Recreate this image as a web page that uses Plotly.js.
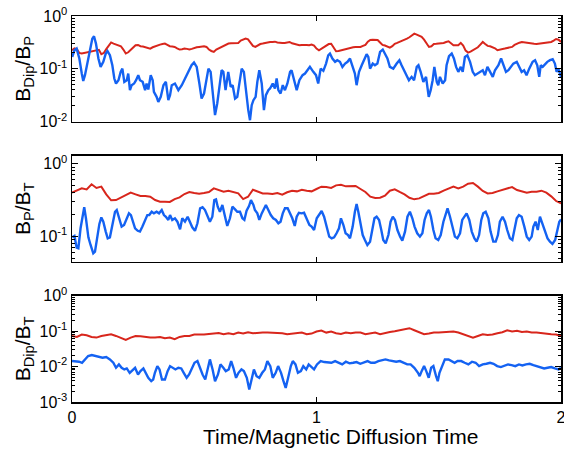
<!DOCTYPE html>
<html>
<head>
<meta charset="utf-8">
<script src="https://cdn.plot.ly/plotly-3.0.1.min.js"></script>
<style>html,body{margin:0;padding:0;background:#fff;}#chart{width:564px;height:450px;}</style>
</head>
<body>
<div id="chart"></div>
<script>
// ---- Panel 1: B_Dip / B_P ----
// red series sampled every 0.01 diffusion times (t = 0 ... 2)
const p1RedValues = [
0.225,0.245,0.236,0.200,0.195,0.200,0.203,0.209,0.215,0.222,
0.225,0.229,0.189,0.200,0.236,0.268,0.316,0.301,0.288,0.284,
0.268,0.232,0.195,0.206,0.225,0.256,0.280,0.284,0.268,0.264,
0.256,0.249,0.242,0.256,0.268,0.280,0.288,0.295,0.301,0.284,
0.268,0.264,0.260,0.245,0.232,0.236,0.242,0.239,0.232,0.239,
0.249,0.256,0.260,0.264,0.268,0.260,0.232,0.218,0.209,0.232,
0.245,0.264,0.280,0.295,0.301,0.305,0.310,0.310,0.310,0.343,
0.362,0.373,0.362,0.310,0.272,0.260,0.280,0.295,0.301,0.310,
0.313,0.323,0.323,0.327,0.316,0.310,0.310,0.310,0.316,0.323,
0.305,0.295,0.284,0.280,0.284,0.288,0.284,0.280,0.288,0.276,
0.242,0.225,0.239,0.260,0.276,0.295,0.298,0.256,0.215,0.218,
0.225,0.229,0.236,0.245,0.252,0.256,0.260,0.260,0.260,0.272,
0.284,0.327,0.352,0.357,0.352,0.352,0.316,0.284,0.276,0.264,
0.252,0.268,0.298,0.310,0.323,0.337,0.357,0.373,0.396,0.438,
0.464,0.444,0.425,0.402,0.357,0.301,0.260,0.268,0.295,0.298,
0.301,0.305,0.310,0.323,0.332,0.305,0.280,0.280,0.280,0.310,
0.276,0.222,0.203,0.212,0.225,0.239,0.256,0.288,0.323,0.295,
0.272,0.268,0.260,0.245,0.225,0.229,0.232,0.242,0.249,0.256,
0.260,0.284,0.301,0.313,0.323,0.316,0.313,0.310,0.301,0.298,
0.295,0.298,0.301,0.305,0.313,0.316,0.323,0.343,0.367,0.357,
0.323];

const p1BlueTime = [
0.001,0.010,0.019,0.030,0.040,0.046,0.053,0.063,0.074,0.083,0.090,0.098,0.108,0.117,0.128,0.138,0.145,0.155,0.165,0.173,
0.180,0.190,0.199,0.206,0.214,0.224,0.230,0.237,0.244,0.254,0.262,0.271,0.278,0.289,0.299,0.305,0.312,0.322,0.330,0.335,
0.346,0.353,0.363,0.374,0.384,0.394,0.401,0.408,0.421,0.435,0.449,0.462,0.476,0.489,0.499,0.510,0.521,0.530,0.540,0.551,
0.558,0.567,0.575,0.585,0.594,0.603,0.612,0.619,0.628,0.639,0.649,0.657,0.667,0.676,0.684,0.694,0.703,0.712,0.721,0.728,
0.735,0.742,0.751,0.758,0.766,0.776,0.785,0.793,0.803,0.810,0.821,0.830,0.837,0.844,0.853,0.862,0.871,0.881,0.892,0.898,
0.908,0.919,0.930,0.943,0.953,0.966,0.973,0.987,0.998,1.007,1.017,1.028,1.039,1.048,1.055,1.065,1.076,1.085,1.096,1.106,
1.117,1.127,1.137,1.146,1.157,1.164,1.174,1.185,1.196,1.205,1.212,1.219,1.230,1.239,1.249,1.260,1.271,1.280,1.290,1.300,
1.314,1.328,1.339,1.348,1.358,1.369,1.378,1.389,1.399,1.410,1.417,1.426,1.437,1.448,1.459,1.467,1.475,1.482,1.492,1.498,
1.505,1.516,1.526,1.532,1.542,1.553,1.562,1.571,1.580,1.590,1.598,1.607,1.617,1.628,1.639,1.648,1.658,1.669,1.680,1.689,
1.699,1.710,1.721,1.730,1.744,1.755,1.764,1.775,1.785,1.795,1.805,1.819,1.830,1.839,1.849,1.859,1.870,1.884,1.894,1.903,
1.911,1.917,1.925,1.935,1.944,1.955,1.966,1.975,1.982,1.989,2.000];
const p1BlueValues = [
0.168,0.225,0.242,0.157,0.0817,0.059,0.076,0.126,0.225,0.373,0.413,0.301,0.157,0.109,0.136,0.195,0.218,0.181,0.117,0.0657,
0.0529,0.0611,0.0878,0.101,0.0569,0.0611,0.0817,0.0396,0.0492,0.0529,0.0611,0.076,0.0611,0.0569,0.0396,0.0529,0.0408,0.076,0.0611,0.0368,
0.0296,0.0238,0.0296,0.0492,0.0569,0.0256,0.0318,0.0492,0.0529,0.0396,0.0492,0.0657,0.0878,0.117,0.132,0.109,0.0529,0.0275,0.0342,0.0657,
0.101,0.0878,0.0396,0.0134,0.0222,0.0529,0.0944,0.0878,0.0396,0.0878,0.0457,0.0492,0.0275,0.0296,0.0529,0.101,0.0878,0.0342,0.0166,0.0107,
0.0206,0.0256,0.0296,0.0569,0.0944,0.0529,0.0166,0.0318,0.0396,0.0426,0.0529,0.0426,0.0657,0.0396,0.0342,0.0492,0.0396,0.0529,0.0878,0.0944,
0.0657,0.0396,0.0611,0.076,0.0817,0.101,0.109,0.0878,0.076,0.0529,0.101,0.0917,0.126,0.181,0.195,0.157,0.136,0.146,0.136,0.109,
0.126,0.136,0.157,0.117,0.0817,0.0492,0.0878,0.117,0.157,0.189,0.168,0.101,0.126,0.117,0.126,0.209,0.232,0.195,0.157,0.109,
0.101,0.126,0.146,0.117,0.0944,0.0707,0.0611,0.0707,0.0611,0.109,0.117,0.0878,0.0569,0.0707,0.0296,0.0396,0.0611,0.109,0.0569,0.0492,
0.0707,0.0529,0.0611,0.117,0.174,0.195,0.157,0.109,0.0878,0.109,0.0878,0.168,0.181,0.136,0.0878,0.076,0.0817,0.0878,0.0944,0.076,
0.109,0.0878,0.0707,0.0944,0.117,0.157,0.117,0.0878,0.0944,0.109,0.126,0.136,0.109,0.0878,0.0944,0.076,0.101,0.136,0.146,0.117,
0.0707,0.117,0.109,0.126,0.136,0.146,0.152,0.126,0.0878,0.101,0.0707];

// ---- Panel 2: B_P / B_T ----
// red series sampled every 0.02 diffusion times
const p2RedValues = [
0.399,0.425,0.458,0.443,0.520,0.463,0.483,0.378,0.313,0.316,
0.340,0.374,0.399,0.378,0.359,0.359,0.351,0.316,0.300,0.300,
0.297,0.326,0.344,0.382,0.408,0.395,0.386,0.395,0.408,0.458,
0.434,0.412,0.425,0.412,0.390,0.326,0.351,0.438,0.412,0.390,
0.390,0.382,0.395,0.374,0.404,0.425,0.416,0.438,0.425,0.416,
0.448,0.483,0.477,0.463,0.503,0.514,0.488,0.493,0.493,0.448,
0.408,0.351,0.337,0.340,0.363,0.425,0.443,0.408,0.378,0.340,
0.323,0.333,0.359,0.386,0.386,0.395,0.425,0.458,0.483,0.458,
0.483,0.530,0.542,0.483,0.421,0.390,0.395,0.416,0.434,0.448,
0.477,0.434,0.412,0.399,0.412,0.412,0.425,0.399,0.355,0.306,
0.284];

const p2BlueTime = [
0.001,0.010,0.019,0.026,0.035,0.042,0.050,0.057,0.067,0.076,
0.087,0.094,0.104,0.112,0.120,0.128,0.138,0.146,0.155,0.166,
0.176,0.183,0.192,0.203,0.213,0.224,0.233,0.241,0.248,0.258,
0.269,0.278,0.288,0.299,0.308,0.316,0.326,0.335,0.346,0.356,
0.367,0.376,0.384,0.394,0.401,0.410,0.421,0.431,0.442,0.451,
0.462,0.473,0.483,0.492,0.503,0.513,0.524,0.534,0.544,0.554,
0.564,0.574,0.582,0.589,0.596,0.605,0.615,0.626,0.635,0.646,
0.656,0.667,0.676,0.687,0.697,0.705,0.714,0.724,0.732,0.742,
0.748,0.758,0.766,0.776,0.785,0.793,0.803,0.813,0.823,0.834,
0.844,0.853,0.862,0.871,0.882,0.892,0.901,0.911,0.919,0.928,
0.939,0.949,0.960,0.971,0.980,0.990,1.001,1.010,1.021,1.031,
1.042,1.052,1.062,1.072,1.082,1.092,1.100,1.110,1.119,1.129,
1.137,1.148,1.157,1.164,1.171,1.181,1.189,1.198,1.208,1.219,
1.228,1.237,1.246,1.256,1.265,1.273,1.283,1.294,1.303,1.312,
1.321,1.331,1.342,1.351,1.362,1.372,1.382,1.392,1.401,1.412,
1.423,1.433,1.442,1.451,1.460,1.468,1.478,1.487,1.498,1.508,
1.519,1.528,1.536,1.546,1.556,1.566,1.576,1.587,1.596,1.606,
1.614,1.625,1.635,1.646,1.655,1.665,1.674,1.682,1.692,1.703,
1.712,1.723,1.733,1.742,1.750,1.761,1.771,1.780,1.791,1.801,
1.810,1.819,1.828,1.839,1.850,1.860,1.870,1.880,1.887,1.896,
1.905,1.914,1.921,1.928,1.937,1.945,1.955,1.965,1.976,1.985,
1.993,2.000];
const p2BlueValues = [
0.0968,0.101,0.0697,0.0682,0.129,0.177,0.251,0.177,0.0968,0.0759,
0.0582,0.0614,0.0989,0.148,0.182,0.159,0.116,0.0937,0.0968,0.143,
0.218,0.230,0.177,0.136,0.143,0.177,0.207,0.196,0.159,0.129,
0.119,0.116,0.136,0.168,0.196,0.196,0.218,0.207,0.218,0.207,
0.230,0.196,0.186,0.168,0.196,0.168,0.177,0.159,0.125,0.177,
0.159,0.186,0.159,0.133,0.119,0.151,0.243,0.251,0.230,0.186,
0.159,0.186,0.316,0.323,0.256,0.218,0.270,0.186,0.139,0.177,
0.256,0.235,0.218,0.218,0.177,0.168,0.225,0.261,0.316,0.270,
0.230,0.207,0.168,0.207,0.243,0.270,0.230,0.196,0.177,0.168,
0.151,0.159,0.207,0.243,0.243,0.207,0.177,0.139,0.186,0.211,
0.207,0.211,0.168,0.143,0.136,0.122,0.177,0.196,0.223,0.186,
0.129,0.0989,0.0937,0.0968,0.110,0.129,0.177,0.143,0.110,0.104,
0.0937,0.136,0.218,0.279,0.218,0.136,0.104,0.0889,0.0759,0.0843,
0.129,0.177,0.186,0.168,0.122,0.0889,0.080,0.104,0.159,0.186,
0.168,0.122,0.0989,0.0871,0.116,0.186,0.218,0.177,0.136,0.110,
0.0989,0.110,0.168,0.207,0.230,0.186,0.122,0.0937,0.0889,0.104,
0.159,0.196,0.243,0.186,0.129,0.0989,0.0937,0.110,0.168,0.186,
0.207,0.168,0.116,0.0937,0.0843,0.104,0.168,0.207,0.218,0.177,
0.116,0.0843,0.0843,0.104,0.159,0.186,0.159,0.122,0.0937,0.0889,
0.122,0.177,0.196,0.186,0.136,0.0989,0.0889,0.0989,0.136,0.159,
0.122,0.186,0.159,0.136,0.110,0.0937,0.0843,0.0783,0.0889,0.129,
0.159,0.171];

// ---- Panel 3: B_Dip / B_T ----
const p3RedValues = [
0.0732,0.0686,0.0800,0.0765,0.0686,0.0657,0.0732,0.0781,0.0816,0.0732,
0.0629,0.0564,0.0657,0.0732,0.0716,0.0671,0.0657,0.0657,0.0686,0.0629,
0.0657,0.0589,0.0686,0.0732,0.0732,0.0800,0.0781,0.0800,0.0834,0.0853,
0.0890,0.0816,0.0871,0.0816,0.0910,0.0853,0.0930,0.0871,0.0910,0.0910,
0.0910,0.0910,0.0890,0.0871,0.0816,0.0853,0.0871,0.0910,0.0816,0.0853,
0.0972,0.1040,0.0910,0.0972,0.0871,0.0834,0.0910,0.0871,0.0910,0.0910,
0.0816,0.0871,0.0910,0.0816,0.0890,0.0951,0.0993,0.1060,0.1160,0.1210,
0.1060,0.0930,0.0816,0.0853,0.0910,0.0910,0.0930,0.0993,0.0972,0.0910,
0.0816,0.0732,0.0657,0.0732,0.0816,0.0781,0.0800,0.0871,0.0930,0.1060,
0.0972,0.1020,0.0951,0.0972,0.0910,0.0910,0.0871,0.0816,0.0816,0.0800,
0.0732];

const p3BlueTime = [
0.000,0.015,0.029,0.041,0.052,0.066,0.081,0.096,0.111,0.125,0.140,0.155,0.169,0.180,0.192,0.203,0.214,0.224,0.236,0.248,
0.258,0.270,0.280,0.292,0.302,0.312,0.324,0.332,0.339,0.349,0.358,0.368,0.380,0.391,0.401,0.413,0.423,0.435,0.447,0.457,
0.469,0.479,0.489,0.501,0.513,0.523,0.534,0.545,0.556,0.564,0.575,0.585,0.597,0.607,0.619,0.629,0.641,0.651,0.660,0.671,
0.681,0.693,0.703,0.715,0.725,0.734,0.744,0.755,0.766,0.778,0.789,0.799,0.811,0.821,0.833,0.843,0.855,0.865,0.874,0.884,
0.895,0.903,0.914,0.924,0.936,0.946,0.958,0.968,0.980,0.990,1.002,1.017,1.032,1.046,1.061,1.076,1.091,1.105,1.120,1.135,
1.150,1.164,1.179,1.194,1.209,1.223,1.238,1.253,1.267,1.282,1.297,1.312,1.326,1.341,1.356,1.371,1.385,1.400,1.415,1.422,
1.430,1.440,1.449,1.459,1.469,1.478,1.489,1.496,1.503,1.515,1.525,1.540,1.555,1.565,1.577,1.592,1.606,1.621,1.636,1.651,
1.665,1.680,1.695,1.710,1.724,1.739,1.754,1.769,1.783,1.798,1.813,1.828,1.842,1.857,1.872,1.887,1.901,1.916,1.931,1.945,
1.960,1.975,1.990,2.000];
const p3BlueValues = [
0.0143,0.0143,0.0137,0.0128,0.0159,0.0198,0.0211,0.0198,0.0186,0.0178,0.0186,0.0159,0.0128,0.00925,0.0115,0.00925,0.00829,0.00885,0.00667,0.00777,
0.00925,0.00598,0.00744,0.00885,0.00667,0.00481,0.00387,0.00431,0.00667,0.0103,0.00829,0.00431,0.00431,0.00744,0.0103,0.00925,0.00829,0.00925,0.00885,0.00667,
0.00481,0.00598,0.00829,0.0128,0.0143,0.00925,0.00598,0.00431,0.00829,0.0159,0.00829,0.00387,0.00598,0.0115,0.00925,0.00744,0.00829,0.0143,0.00925,0.00481,
0.00667,0.00829,0.00744,0.00481,0.00224,0.00431,0.00829,0.00536,0.00481,0.00667,0.00829,0.0143,0.0103,0.00481,0.00667,0.0103,0.00667,0.00387,0.00250,0.00481,
0.0103,0.0143,0.0115,0.00667,0.00744,0.0103,0.00829,0.0115,0.00925,0.00829,0.0115,0.0143,0.0134,0.0128,0.0128,0.0143,0.0128,0.0115,0.0137,0.0123,
0.0128,0.0134,0.0120,0.0128,0.0143,0.0128,0.0128,0.0143,0.0149,0.0159,0.0149,0.0143,0.0137,0.0143,0.0128,0.0115,0.0115,0.00925,0.00667,0.00536,
0.00744,0.0103,0.00744,0.00481,0.00925,0.0103,0.00536,0.00387,0.00667,0.0115,0.0159,0.0159,0.0143,0.0128,0.0143,0.0143,0.0128,0.0115,0.0137,0.0128,
0.0103,0.0115,0.0120,0.0128,0.0120,0.0103,0.00966,0.0103,0.0115,0.0110,0.0103,0.0115,0.0108,0.0115,0.0120,0.0110,0.0103,0.00966,0.00885,0.00925,
0.00966,0.00885,0.00829,0.00925];

// sampling grids of the evenly sampled (red) series
const gridStep1 = 0.01, gridStep2 = 0.02;
const p1RedTime = p1RedValues.map((_, i) => +(i * gridStep1).toFixed(2));
const p2RedTime = p2RedValues.map((_, i) => +(i * gridStep2).toFixed(2));
const p3RedTime = p3RedValues.map((_, i) => +(i * gridStep2).toFixed(2));

const xTickVals = [0, 1, 2];
const xTickText = ['0', '1', '2'];
const yTitles = ['B<sub>Dip</sub>/B<sub>P</sub>', 'B<sub>P</sub>/B<sub>T</sub>', 'B<sub>Dip</sub>/B<sub>T</sub>'];
const xTitle = 'Time/Magnetic Diffusion Time';

const RED = '#d8261c', BLUE = '#1462f2';

function line(x, y, color, width, xa, ya) {
  return {x: x, y: y, type: 'scatter', mode: 'lines', line: {color: color, width: width},
          xaxis: xa, yaxis: ya, hoverinfo: 'skip'};
}
const data = [
  line(p1RedTime, p1RedValues, RED, 2, 'x', 'y'), line(p1BlueTime, p1BlueValues, BLUE, 2.4, 'x', 'y'),
  line(p2RedTime, p2RedValues, RED, 2, 'x2', 'y2'), line(p2BlueTime, p2BlueValues, BLUE, 2.4, 'x2', 'y2'),
  line(p3RedTime, p3RedValues, RED, 2, 'x3', 'y3'), line(p3BlueTime, p3BlueValues, BLUE, 2.4, 'x3', 'y3')
];

function xAxis(anchor, labels) {
  return {anchor: anchor, domain: [0, 1], range: [0, 2], showline: true, linecolor: 'black', linewidth: 1.5,
    mirror: 'ticks', ticks: 'inside', ticklen: 5, tickwidth: 1, tickcolor: 'black',
    tickmode: 'array', tickvals: xTickVals, ticktext: xTickText, showticklabels: labels,
    ticklabeloverflow: 'allow', tickfont: {size: 16},
    showgrid: false, zeroline: false, fixedrange: true};
}
function yAxis(anchor, domain, range, vals, text, title) {
  return {anchor: anchor, domain: domain, type: 'log', range: range, showline: true, linecolor: 'black', linewidth: 1.5,
    mirror: 'ticks', ticks: 'inside', ticklen: 6, tickwidth: 1, tickcolor: 'black',
    tickmode: 'array', tickvals: vals, ticktext: text, tickfont: {size: 16},
    minor: {ticks: 'inside', ticklen: 3, tickcolor: 'black', tickwidth: 1, dtick: 'D1', showgrid: false},
    showgrid: false, zeroline: false, fixedrange: true,
    title: {text: title, font: {size: 21}, standoff: 3}};
}

const layout = {
  width: 564, height: 450,
  margin: {l: 72, r: 3, t: 16, b: 48},
  paper_bgcolor: 'white', plot_bgcolor: 'white', showlegend: false,
  font: {family: 'Liberation Sans, Arial, Helvetica, sans-serif', size: 16, color: 'black'},
  xaxis: xAxis('y', false), xaxis2: xAxis('y2', false), xaxis3: xAxis('y3', true),
  yaxis: yAxis('x', [0.726, 1], [-2, 0], [0.01, 0.1, 1], ['10<sup>-2</sup>', '10<sup>-1</sup>', '10<sup>0</sup>'], yTitles[0]),
  yaxis2: yAxis('x2', [0.3635, 0.638], [-1.35, 0.11], [0.1, 1], ['10<sup>-1</sup>', '10<sup>0</sup>'], yTitles[1]),
  yaxis3: yAxis('x3', [0, 0.2754], [-3, 0], [0.001, 0.01, 0.1, 1], ['10<sup>-3</sup>', '10<sup>-2</sup>', '10<sup>-1</sup>', '10<sup>0</sup>'], yTitles[2]),
  annotations: [{text: xTitle, xref: 'paper', yref: 'paper', x: 0.55, y: -0.09, xanchor: 'center', yanchor: 'middle',
                 showarrow: false, font: {size: 21, color: 'black'}}]
};
Plotly.newPlot('chart', data, layout, {displayModeBar: false, staticPlot: true});
</script>
</body>
</html>
